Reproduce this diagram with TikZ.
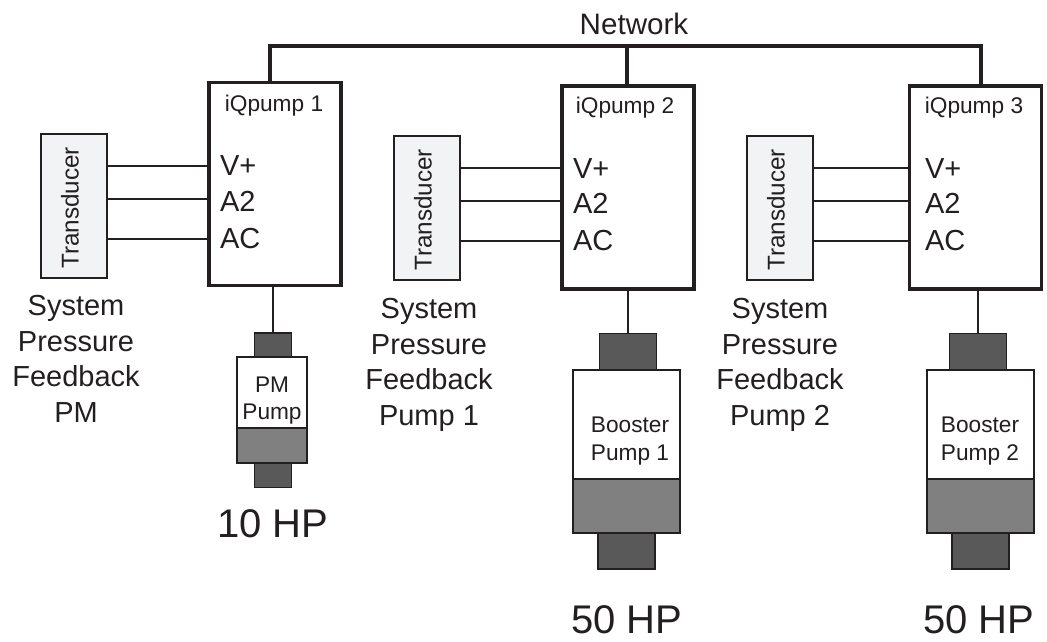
\documentclass[tikz,border=0pt]{standalone}
\usepackage{fontspec}
\setmainfont{Liberation Sans}
\newcommand{\fsSmall}{\fontsize{17pt}{20.5pt}\selectfont}
\newcommand{\fsMid}{\fontsize{21.75pt}{26.6pt}\selectfont}
\newcommand{\fsBig}{\fontsize{30pt}{36pt}\selectfont}
\newcommand{\fsTrans}{\fontsize{18.2pt}{21pt}\selectfont}
\newcommand{\fsNet}{\fontsize{22.2pt}{26pt}\selectfont}
\definecolor{txt}{HTML}{231F20}
\definecolor{darkblock}{HTML}{595959}
\definecolor{midblock}{HTML}{808080}
\definecolor{transfill}{HTML}{F2F3F5}
\tikzset{
  x=0.75pt,y=-0.75pt,
  every node/.style={inner sep=0pt,outer sep=0pt,text=txt},
  ctrl/.style={draw=txt,line width=2.7pt,fill=white,rectangle,minimum width=99pt,minimum height=152pt},
  trans/.style={draw=txt,line width=1.3pt,fill=transfill,rectangle,minimum width=49pt,minimum height=108pt},
  wire/.style={draw=txt,line width=1.1pt},
  bus/.style={draw=txt,line width=2.4pt},
  dblock/.style={draw=txt,line width=1.2pt,fill=darkblock,rectangle},
  mblock/.style={draw=txt,line width=1.2pt,fill=midblock,rectangle},
  wblock/.style={draw=txt,line width=1.2pt,fill=white,rectangle},
  ttl/.style={font=\fsSmall},
  tlab/.style={font=\fsTrans,rotate=90},
  pinlab/.style={font=\fsMid,anchor=west},
  captxt/.style={font=\fsMid,align=center},
  hptxt/.style={font=\fsBig},
}
\begin{document}
\begin{tikzpicture}
\useasboundingbox (0,0) rectangle (1047,642);
% Network
\node[font=\fsNet] (net) at (634,24) {Network};
\coordinate (n1) at (270,46);
\coordinate (n2) at (627,46);
\coordinate (n3) at (981,46);
% controllers
\node[ctrl] (c1) at (275,184) {};
\node[ctrl] (c2) at (628,187.5) {};
\node[ctrl] (c3) at (975.5,187.5) {};
\draw[bus] (c1.north -| n1) -- (n1) -- (n3) -- (c3.north -| n3);
\draw[bus] (n2) -- (c2.north -| n2);
\node[ttl] (q1) at (274,106) {iQpump 1};
\node[ttl] (q2) at (625,108) {iQpump 2};
\node[ttl] (q3) at (974,108) {iQpump 3};
% transducers
\node[trans] (t1) at (74,206) {};
\node[trans] (t2) at (427,208) {};
\node[trans] (t3) at (780,208) {};
\node[tlab] (tl1) at (70,208) {Transducer};
\node[tlab] (tl2) at (423,210) {Transducer};
\node[tlab] (tl3) at (776,210) {Transducer};
% wires
\foreach \i/\dy in {1/0,2/2,3/2}{
  \coordinate (a\i) at (0,166+\dy);
  \coordinate (b\i) at (0,199+\dy);
  \coordinate (d\i) at (0,239+\dy);
  \draw[wire] (t\i.east |- a\i) -- (c\i.west |- a\i);
  \draw[wire] (t\i.east |- b\i) -- (c\i.west |- b\i);
  \draw[wire] (t\i.east |- d\i) -- (c\i.west |- d\i);
}
\node[pinlab] (p1a) at (220,166) {V+};
\node[pinlab] (p1b) at (220,201) {A2};
\node[pinlab] (p1c) at (220,239) {AC};
\node[pinlab] (p2a) at (573,169) {V+};
\node[pinlab] (p2b) at (573,203) {A2};
\node[pinlab] (p2c) at (573,241) {AC};
\node[pinlab] (p3a) at (925,169) {V+};
\node[pinlab] (p3b) at (925,203) {A2};
\node[pinlab] (p3c) at (925,241) {AC};
% captions
\node[captxt] (s1) at (76,359) {System\\Pressure\\Feedback\\PM};
\node[captxt] (s2) at (429,365) {System\\Pressure\\Feedback\\Pump 1};
\node[captxt] (s3) at (780,365) {System\\Pressure\\Feedback\\Pump 2};
% PM pump
\node[wblock,minimum width=52.5pt,minimum height=53pt] (w1) at (272,392.5) {};
\node[mblock,minimum width=52.5pt,minimum height=26pt] (g1) at (272,445.5) {};
\node[dblock,minimum width=28pt,minimum height=18pt] (u1) at (273,345) {};
\node[dblock,minimum width=28pt,minimum height=18pt] (l1) at (273,475.5) {};
\draw[wire] (c1.south -| u1) -- (u1.north);
\node[ttl,align=center] (pl1) at (272,400.5) {PM\\Pump};
\node[hptxt] (hp1) at (273,524) {10 HP};
% Booster 1
\node[wblock,minimum width=80pt,minimum height=82pt] (w2) at (626.5,424.5) {};
\node[mblock,minimum width=80pt,minimum height=40.5pt] (g2) at (626.5,506) {};
\node[dblock,minimum width=43pt,minimum height=27pt] (u2) at (628,351.5) {};
\node[dblock,minimum width=43pt,minimum height=27pt] (l2) at (626.5,551) {};
\draw[wire] (c2.south -| u2) -- (u2.north);
\node[ttl,align=center] (pl2) at (630,441) {Booster\\Pump 1};
\node[hptxt] (hp2) at (627,620) {50 HP};
% Booster 2
\node[wblock,minimum width=80pt,minimum height=82pt] (w3) at (980.5,424.5) {};
\node[mblock,minimum width=80pt,minimum height=40.5pt] (g3) at (980.5,506) {};
\node[dblock,minimum width=43pt,minimum height=27pt] (u3) at (978,351.5) {};
\node[dblock,minimum width=43pt,minimum height=27pt] (l3) at (980.5,551) {};
\draw[wire] (c3.south -| u3) -- (u3.north);
\node[ttl,align=center] (pl3) at (980,441) {Booster\\Pump 2};
\node[hptxt] (hp3) at (979,620) {50 HP};
\end{tikzpicture}
\end{document}
